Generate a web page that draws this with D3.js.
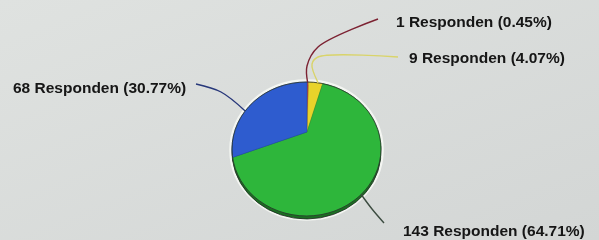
<!DOCTYPE html>
<html>
<head>
<meta charset="utf-8">
<script src="https://cdn.jsdelivr.net/npm/d3@7/dist/d3.min.js"></script>
<style>
    body { margin: 0; background: #d9dcda; overflow: hidden; }
    .label { font-family: "Liberation Sans", Arial, sans-serif; font-weight: bold; font-size: 15.5px; fill: #141414; }
</style>
</head>
<body>
<svg id="chart"></svg>
<script>
// slices clockwise from 12 o'clock
const counts = [1, 9, 143, 68];
const labelWord = "Responden";
const sliceColors = ["#b23a48", "#e8d32c", "#2fb63b", "#2e5ccf"];
const lineColors = ["#7c2232", "#d9d46a", "#3c4c40", "#27377a"];

// label anchors and leader bend points (layout only)
const labelPos = [[396, 27], [409, 63], [403, 236], [13, 93]];
const leaderBends = [
    [[307, 66], [318, 47], [378, 19]],
    [[312, 64], [318, 57], [398, 57]],
    [[372, 209], [384, 223]],
    [[221, 92], [196, 84]]
];

const width = 599, height = 240;
const pieGeom = {cx: 306.5, cy: 149, rx: 74.5, ry: 67, vx: 307, vy: 132, depth: 3};

const svg = d3.select('#chart')
    .attr('width', width)
    .attr('height', height);

// photo-like background
const defs = svg.append('defs');
const bg = defs.append('linearGradient')
    .attr('id', 'bg')
    .attr('x1', 0).attr('y1', 0).attr('x2', 1).attr('y2', 1);
bg.append('stop').attr('offset', 0).attr('stop-color', '#dfe2e0');
bg.append('stop').attr('offset', 1).attr('stop-color', '#d3d6d5');
defs.append('filter').attr('id', 'soft')
    .append('feGaussianBlur').attr('stdDeviation', 0.45);

svg.append('rect')
    .attr('width', width)
    .attr('height', height)
    .attr('fill', 'url(#bg)');

const g = svg.append('g').attr('filter', 'url(#soft)');

const total = d3.sum(counts);
const fmt = d3.format('.2f');

const pie = d3.pie()
    .sort(null)
    .value(d => d);
const arcs = pie(counts);

// point where a ray from the (off-centre) vertex meets the rim
function rimPoint(theta) {
    const G = pieGeom;
    const px = (G.vx - G.cx) / G.rx, py = (G.vy - G.cy) / G.ry;
    const qx = Math.sin(theta), qy = -Math.cos(theta);
    const pq = px * qx + py * qy;
    const t = -pq + Math.sqrt(pq * pq - (px * px + py * py) + 1);
    return [G.vx + t * qx * G.rx, G.vy + t * qy * G.ry];
}

function ellipseAngle(p) {
    const G = pieGeom;
    let a = Math.atan2((p[0] - G.cx) / G.rx, -(p[1] - G.cy) / G.ry);
    return a < 0 ? a + 2 * Math.PI : a;
}

function slicePath(d, dy) {
    const G = pieGeom;
    const p0 = rimPoint(d.startAngle), p1 = rimPoint(d.endAngle);
    let delta = ellipseAngle(p1) - ellipseAngle(p0);
    if (delta < 0) delta += 2 * Math.PI;
    const large = delta > Math.PI ? 1 : 0;
    return `M${G.vx},${G.vy + dy}L${p0[0]},${p0[1] + dy}` +
        `A${G.rx},${G.ry} 0 ${large} 1 ${p1[0]},${p1[1] + dy}Z`;
}

// halo + side wall
g.append('ellipse')
    .attr('cx', pieGeom.cx).attr('cy', pieGeom.cy + 1)
    .attr('rx', pieGeom.rx + 1.5).attr('ry', pieGeom.ry + 2.5)
    .attr('fill', 'none')
    .attr('stroke', '#f4f6f2')
    .attr('stroke-width', 2.5);

g.selectAll('.side')
    .data(arcs)
    .join('path')
    .attr('class', 'side')
    .attr('d', d => slicePath(d, pieGeom.depth))
    .attr('fill', (d, i) => d3.color(sliceColors[i]).darker(1.4))
    .attr('stroke', '#1f2a22')
    .attr('stroke-width', 0.8);

g.selectAll('.slice')
    .data(arcs)
    .join('path')
    .attr('class', 'slice')
    .attr('d', d => slicePath(d, 0))
    .attr('fill', (d, i) => sliceColors[i])
    .attr('stroke', (d, i) => d3.color(sliceColors[i]).darker(0.6))
    .attr('stroke-width', 0.5);

g.append('ellipse')
    .attr('cx', pieGeom.cx).attr('cy', pieGeom.cy)
    .attr('rx', pieGeom.rx).attr('ry', pieGeom.ry)
    .attr('fill', 'none')
    .attr('stroke', '#27332b')
    .attr('stroke-width', 0.8);

// leader lines from the rim at each slice's mid angle
const leader = d3.line().curve(d3.curveCatmullRom.alpha(0.5));
g.selectAll('.leader')
    .data(arcs)
    .join('path')
    .attr('class', 'leader')
    .attr('d', (d, i) => {
        const m = (d.startAngle + d.endAngle) / 2;
        const start = [pieGeom.cx + pieGeom.rx * Math.sin(m), pieGeom.cy - pieGeom.ry * Math.cos(m)];
        return leader([start].concat(leaderBends[i]));
    })
    .attr('fill', 'none')
    .attr('stroke', (d, i) => lineColors[i])
    .attr('stroke-width', 1.4);

g.selectAll('.label')
    .data(arcs)
    .join('text')
    .attr('class', 'label')
    .attr('x', (d, i) => labelPos[i][0])
    .attr('y', (d, i) => labelPos[i][1])
    .text(d => `${d.data} ${labelWord} (${fmt(d.data / total * 100)}%)`);
</script>
</body>
</html>
